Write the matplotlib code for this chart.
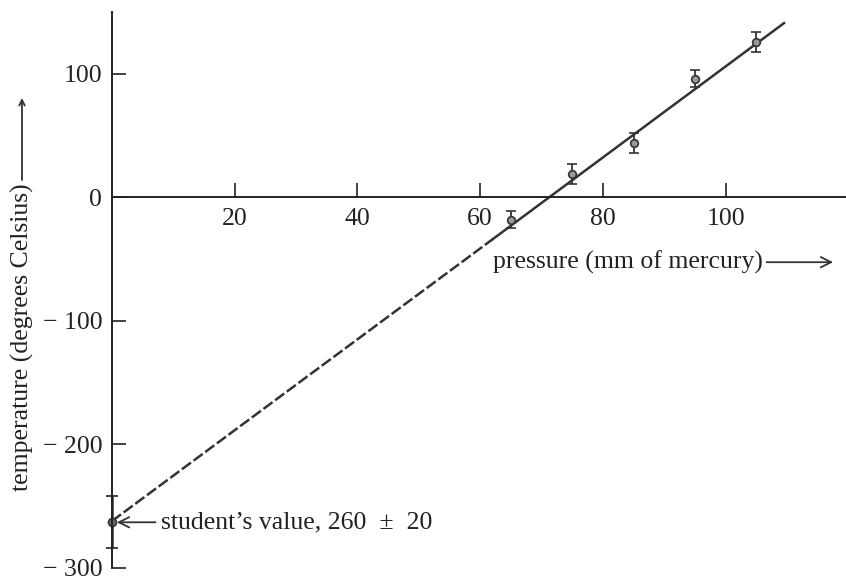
import matplotlib
matplotlib.use("Agg")
import matplotlib.pyplot as plt

# --- data ---
pressure = [65, 75, 85, 95, 105]
temperature = [-18, 19, 44, 96, 126]
temp_err = [7, 8, 8, 7, 8]

# extrapolated part (dashed) and measured-range part (solid) of the line
dashed_p = [0, 62]
dashed_t = [-262, -34]
solid_p = [62, 109.5]
solid_t = [-34, 141]

student_p = [0]
student_t = [-263]
student_err = [21]

x_ticks = [20, 40, 60, 80, 100]
y_ticks = [100, 0, -100, -200, -300]
y_tick_labels = ["100", "0", "\u2212 100", "\u2212 200", "\u2212 300"]

ink = "#222222"
plt.rcParams["font.family"] = ["Liberation Serif", "DejaVu Serif"]

fig = plt.figure(figsize=(8.46, 5.82), dpi=100)
ax = fig.add_axes([112 / 846, 14 / 582, 734 / 846, 556 / 582])
ax.set_xlim(0, 119.6)
ax.set_ylim(-300, 150)

# axes: vertical spine at left, horizontal one through zero
for side in ("top", "right"):
    ax.spines[side].set_visible(False)
ax.spines["bottom"].set_position(("data", 0))
ax.spines["left"].set_color(ink)
ax.spines["bottom"].set_color(ink)
ax.spines["left"].set_linewidth(1.4)
ax.spines["bottom"].set_linewidth(1.4)

ax.set_xticks(x_ticks)
ax.set_xticklabels([str(v) for v in x_ticks])
ax.set_yticks(y_ticks)
ax.set_yticklabels(y_tick_labels)
ax.tick_params(axis="both", direction="in", length=10, width=1.2, color=ink,
               labelsize=18.5, labelcolor=ink, pad=7)
ax.tick_params(axis="x", pad=8)

# fitted line
ax.plot(dashed_p, dashed_t, color="#333333", lw=1.8, linestyle=(0, (4.5, 1.3)), clip_on=False)
ax.plot(solid_p, solid_t, color="#333333", lw=1.8, clip_on=False)

# measured points
ax.errorbar(pressure, temperature, yerr=temp_err, fmt="o", ms=5.5,
            mfc="#999999", mec="#333333", mew=1.2, ecolor="#333333",
            elinewidth=1.3, capsize=3.5, capthick=1.3, clip_on=False)

# student's extrapolated value
ax.errorbar(student_p, student_t, yerr=student_err, fmt="o", ms=6,
            mfc="#666666", mec="#333333", ecolor="#333333",
            elinewidth=1.8, capsize=4, capthick=1.3, clip_on=False)
ax.annotate("student\u2019s value, 260  \u00b1  20", xy=(0.8, -263), xytext=(8, -263),
            fontsize=18.5, color=ink, va="center", ha="left",
            arrowprops=dict(arrowstyle="->", color="#333333", lw=1.3,
                            shrinkA=2, shrinkB=0))

# axis labels with arrows
ax.annotate("pressure (mm of mercury)", xy=(117.5, -52.5), xytext=(62, -52.5),
            fontsize=18.5, color=ink, va="center", ha="left",
            arrowprops=dict(arrowstyle="->", color="#333333", lw=1.3,
                            shrinkA=1, shrinkB=0))
fig.text(22 / 846, 1 - 337 / 582, "temperature (degrees Celsius)", rotation=90,
         fontsize=18.5, color=ink, ha="center", va="center")
ax.annotate("", xy=(22, 582 - 98), xytext=(22, 582 - 180),
            xycoords="figure pixels", textcoords="figure pixels",
            arrowprops=dict(arrowstyle="->", color="#333333", lw=1.3,
                            shrinkA=0, shrinkB=0))

fig.savefig("out.png", dpi=100)
